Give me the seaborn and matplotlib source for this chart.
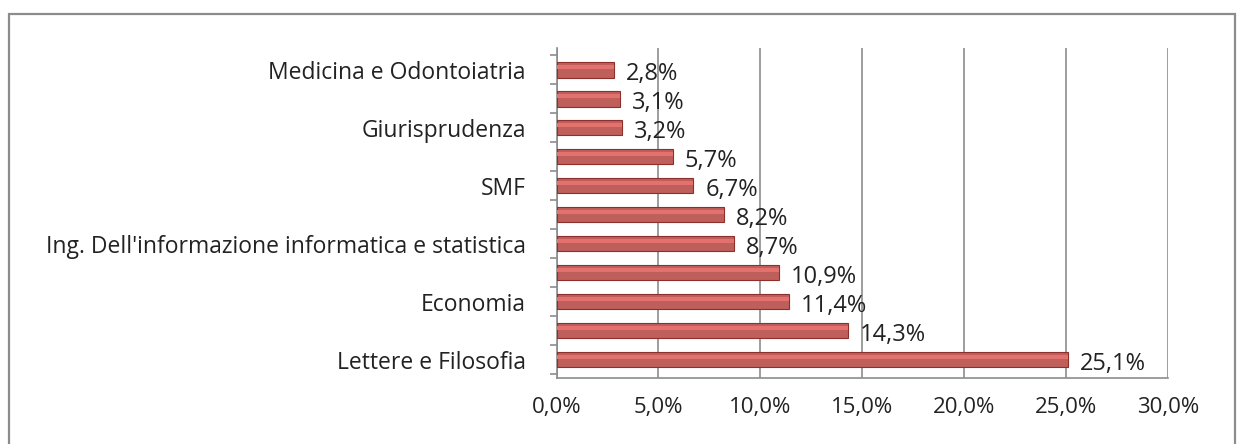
import matplotlib.pyplot as plt
import seaborn as sns
import pandas as pd
from matplotlib.patches import Rectangle

# top to bottom, as in the chart
categories = ['Medicina e Odontoiatria', 'cat2', 'Giurisprudenza', 'cat4', 'SMF', 'cat6',
              "Ing. Dell'informazione informatica e statistica", 'cat8', 'Economia', 'cat10',
              'Lettere e Filosofia']
tick_labels = ['Medicina e Odontoiatria', '', 'Giurisprudenza', '', 'SMF', '',
               "Ing. Dell'informazione informatica e statistica", '', 'Economia', '',
               'Lettere e Filosofia']
values = [2.8, 3.1, 3.2, 5.7, 6.7, 8.2, 8.7, 10.9, 11.4, 14.3, 25.1]
x_ticks = [0, 5, 10, 15, 20, 25, 30]

df = pd.DataFrame({'facolta': categories, 'perc': values})

sns.set_style('white')
plt.rcParams['font.family'] = ['Open Sans', 'DejaVu Sans']

fig = plt.figure(figsize=(12.45, 4.44), dpi=100)
ax = fig.add_axes([0.447, 0.149, 0.491, 0.743])

# outer chart frame
fig.patches.append(Rectangle((0.007, -0.05), 0.985, 1.018, transform=fig.transFigure,
                             fill=False, edgecolor='#8c8c8c', linewidth=1.6))

sns.barplot(data=df, y='facolta', x='perc', orient='h', color='#cf4f4c',
            edgecolor='#8e2f2c', linewidth=0.8, width=0.52, ax=ax, zorder=3)

# light highlight stripe to hint at the cylinder shading
for p in ax.patches:
    y0, h = p.get_y(), p.get_height()
    ax.add_patch(Rectangle((p.get_x(), y0 + h * 0.18), p.get_width(), h * 0.28,
                           facecolor='#e3716e', edgecolor='none', zorder=4))

for i, v in enumerate(values):
    ax.text(v + 0.6, i + 0.15, f'{v:.1f}%'.replace('.', ','), va='center', ha='left',
            fontsize=17, color='#222222', zorder=5)

ax.set_xlim(0, 30)
ax.set_ylim(len(values) - 1 + 0.62, -0.76)
ax.set_xticks(x_ticks)
ax.set_xticklabels([f'{t:.1f}%'.replace('.', ',') for t in x_ticks], fontsize=16, color='#222222')
ax.set_yticks(range(len(values)))
ax.set_yticklabels(tick_labels, fontsize=16.5, color='#222222')
ax.set_yticks([i + 0.5 for i in range(-1, len(values))], minor=True)
ax.tick_params(axis='y', which='major', length=0, pad=22)
ax.tick_params(axis='y', which='minor', length=5, width=1.2, color='#8c8c8c', left=True)
ax.tick_params(axis='x', length=0, pad=14)
ax.set_xlabel('')
ax.set_ylabel('')

ax.grid(axis='x', color='#8c8c8c', linewidth=1.2, zorder=0)
for s in ['top', 'right']:
    ax.spines[s].set_visible(False)
ax.spines['left'].set_color('#8c8c8c')
ax.spines['bottom'].set_color('#8c8c8c')
ax.spines['left'].set_linewidth(1.2)
ax.spines['bottom'].set_linewidth(1.2)

plt.savefig('out.png', dpi=100)
plt.close()
